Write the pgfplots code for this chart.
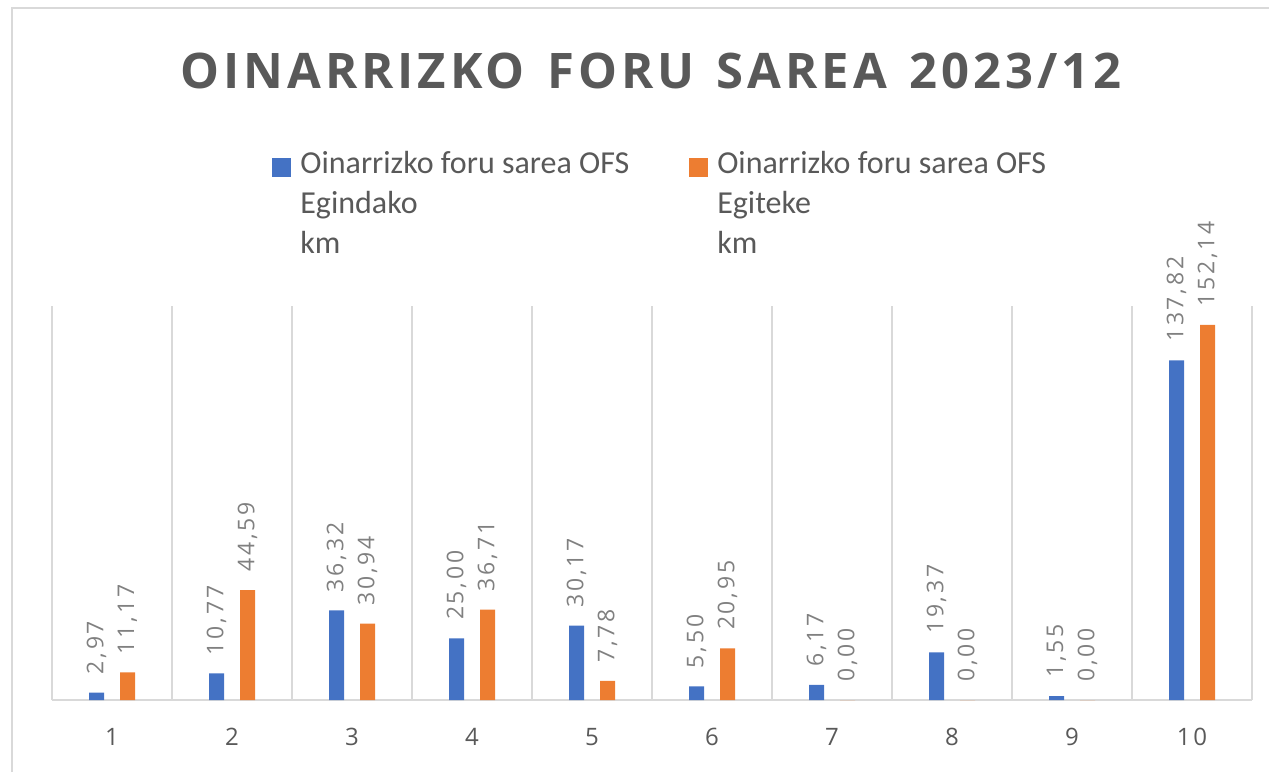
\documentclass[border=0pt]{standalone}
\usepackage{fontspec}
\setmainfont{Carlito}
\newfontfamily\titlefont[LetterSpace=8]{Open Sans}
\newfontfamily\numfont[LetterSpace=12]{Open Sans}
\usepackage{pgfplots}
\pgfplotsset{compat=1.18}
\usepackage{pgfplotstable}
\definecolor{ofsblue}{HTML}{4472C4}
\definecolor{ofsorange}{HTML}{ED7D31}
\definecolor{gridgray}{HTML}{D9D9D9}
\definecolor{txtgray}{HTML}{595959}
\definecolor{labgray}{HTML}{808080}
\pgfplotsset{sqlegend/.style={legend image code/.code={\fill[##1] (0pt,-8pt) rectangle (9.5pt,1.5pt);}}}

\pgfplotstableread{
x y lab
1 2.97 2,97
2 10.77 10,77
3 36.32 36,32
4 25.00 25,00
5 30.17 30,17
6 5.50 5,50
7 6.17 6,17
8 19.37 19,37
9 1.55 1,55
10 137.82 137,82
}\egindako

\pgfplotstableread{
x y lab
1 11.17 11,17
2 44.59 44,59
3 30.94 30,94
4 36.71 36,71
5 7.78 7,78
6 20.95 20,95
7 0.00 0,00
8 0.00 0,00
9 0.00 0,00
10 152.14 152,14
}\egiteke

\begin{document}
\begin{tikzpicture}
\useasboundingbox (-26pt,-36pt) rectangle (608.5pt,350pt);
\draw[gridgray, line width=1pt] (-20pt,-36pt) -- (-20pt,346pt) -- (608.5pt,346pt);
\begin{axis}[
  at={(0pt,0pt)}, anchor=south west,
  scale only axis, width=600pt, height=197.2pt,
  xmin=0.5, xmax=10.5, ymin=0, ymax=160,
  ybar=8pt, bar width=7.5pt,
  axis line style={draw=none},
  xtick={1,2,3,4,5,6,7,8,9,10},
  xticklabels={1,2,3,4,5,6,7,8,9,10},
  minor xtick={0.5,1.5,2.5,3.5,4.5,5.5,6.5,7.5,8.5,9.5,10.5},
  xminorgrids=true,
  minor grid style={gridgray, line width=1pt},
  major tick length=0pt, minor tick length=0pt,
  ytick=\empty,
  extra y ticks={0}, extra y tick labels={},
  extra y tick style={ymajorgrids=true, major grid style={gridgray, line width=1.2pt}},
  xticklabel style={font=\numfont\fontsize{12}{14}\selectfont, text=txtgray, yshift=-10.5pt},
  clip=false,
  point meta=explicit symbolic,
  nodes near coords,
  every node near coord/.append style={font=\numfont\fontsize{11.5}{13}\selectfont, text=labgray, rotate=90, anchor=west, inner xsep=0pt, xshift=9pt},
  legend columns=2,
  legend cell align=left,
  legend style={draw=none, fill=none, inner sep=0pt,
    at={(0.1833,1.408)}, anchor=north west,
    font=\fontsize{16}{20}\selectfont, text=txtgray,
    nodes={inner xsep=4.5pt, inner ysep=0pt},
    /tikz/every even column/.append style={column sep=25.5pt}},
]
\addplot[fill=ofsblue, draw=none, sqlegend]
  table[x=x, y=y, meta=lab] {\egindako};
\addlegendentry{\begin{tabular}[t]{@{}l@{}}Oinarrizko foru sarea OFS\\Egindako\\km\end{tabular}}
\addplot[fill=ofsorange, draw=none, sqlegend]
  table[x=x, y=y, meta=lab] {\egiteke};
\addlegendentry{\begin{tabular}[t]{@{}l@{}}Oinarrizko foru sarea OFS\\Egiteke\\km\end{tabular}}
\end{axis}
\node[font=\titlefont\bfseries\fontsize{24.5}{28}\selectfont, text=txtgray] at (299.5pt,314.75pt) {OINARRIZKO\hspace{3pt} FORU\hspace{3pt} SAREA\hspace{3pt} 2023/12};
\end{tikzpicture}
\end{document}
